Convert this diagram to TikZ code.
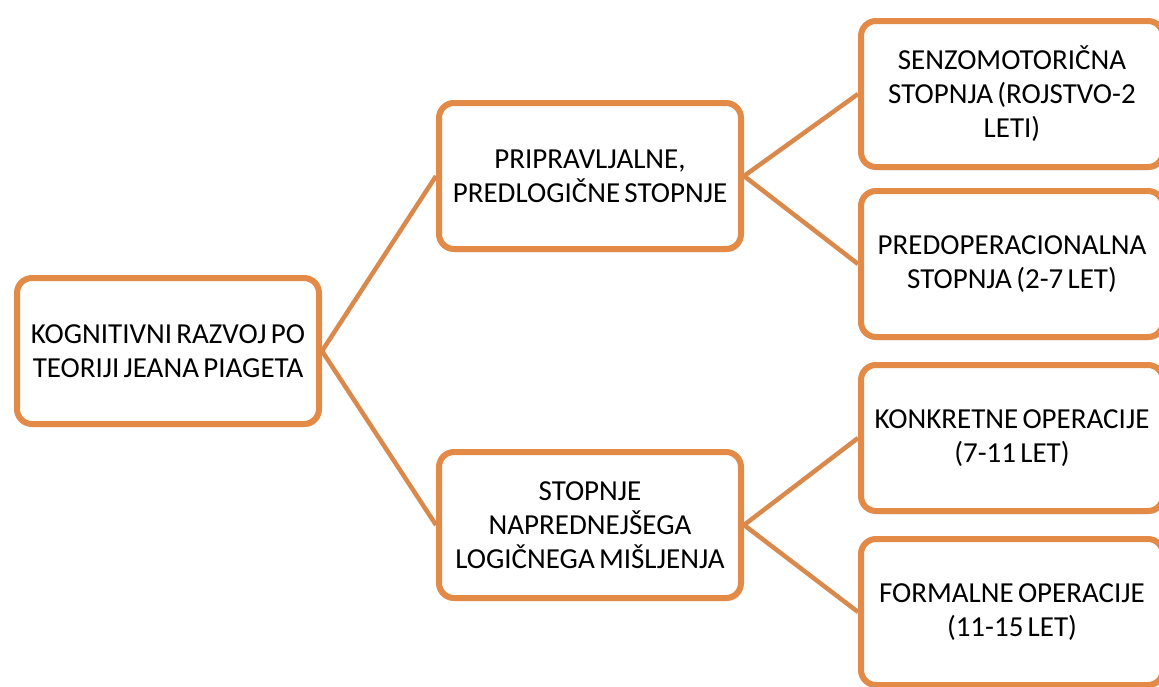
\documentclass[tikz,border=0pt]{standalone}
\usepackage{fontspec}
\setmainfont{Carlito}[WordSpace=0.65]
\usetikzlibrary{shadows}
\definecolor{boxorange}{RGB}{227,139,70}
\definecolor{lineorange}{RGB}{217,137,75}
\tikzset{
  stagebox/.style={draw=boxorange, line width=6pt, fill=white, rounded corners=15pt,
    minimum width=301pt, minimum height=146pt, align=flush center, inner sep=2pt,
    text width=298pt, font=\fontsize{29}{34}\selectfont,
    drop shadow={shadow xshift=2pt, shadow yshift=-3pt, opacity=0.25, fill=black!60}},
  link/.style={draw=lineorange, line width=4.5pt}
}
\begin{document}
\begin{tikzpicture}[x=1pt,y=-1pt]
\useasboundingbox (0,0) rectangle (1159,686);
\fill[white] (0,0) rectangle (1159,686);
\begin{scope}
\clip (0,0) rectangle (1159,686);
\node[stagebox] (root) at (168,351) {KOGNITIVNI RAZVOJ PO\\TEORIJI JEANA PIAGETA};
\node[stagebox] (pre) at (590,176) {PRIPRAVLJALNE,\\PREDLOGIČNE STOPNJE};
\node[stagebox] (log) at (590,525) {STOPNJE\\NAPREDNEJŠEGA\\LOGIČNEGA MIŠLJENJA};
\node[stagebox] (senz) at (1012,94) {SENZOMOTORIČNA\\STOPNJA (ROJSTVO-2\\LETI)};
\node[stagebox] (predop) at (1012,264) {PREDOPERACIONALNA\\STOPNJA (2-7 LET)};
\node[stagebox] (konk) at (1012,438) {KONKRETNE OPERACIJE\\(7-11 LET)};
\node[stagebox] (form) at (1012,612) {FORMALNE OPERACIJE\\(11-15 LET)};
\end{scope}
\begin{scope}
\clip (0,0) rectangle (1159,686);
\draw[link] (root.east) -- (pre.west);
\draw[link] (root.east) -- (log.west);
\draw[link] (pre.east) -- (senz.west);
\draw[link] (pre.east) -- (predop.west);
\draw[link] (log.east) -- (konk.west);
\draw[link] (log.east) -- (form.west);
\end{scope}
\end{tikzpicture}
\end{document}
